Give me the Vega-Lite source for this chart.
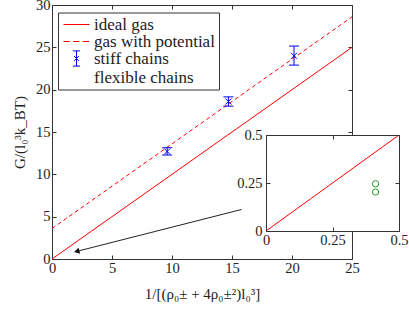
{
  "$schema": "https://vega.github.io/schema/vega-lite/v6.json",
  "width": 300,
  "height": 254,
  "autosize": {"type": "none"},
  "padding": {"left": 52, "top": 5, "right": 57, "bottom": 50},
  "background": "white",
  "config": {
    "view": {"stroke": null},
    "font": "Liberation Serif",
    "axis": {
      "labelFont": "Liberation Serif",
      "labelFontSize": 14.5,
      "labelColor": "#222222",
      "titleFont": "Liberation Serif",
      "titleFontSize": 15,
      "titleFontWeight": "normal",
      "titleColor": "#222222",
      "domainColor": "#333333",
      "tickColor": "#333333",
      "grid": false,
      "labelFlush": false,
      "labelOverlap": false,
      "tickSize": -4,
      "domainWidth": 1,
      "tickWidth": 1
    }
  },
  "datasets": {
    "ideal": [{"x": 0, "G": 0}, {"x": 25, "G": 25}],
    "potential": [{"x": 0, "G": 3.6}, {"x": 25, "G": 28.6}],
    "stiff": [
      {"x": 9.6, "G": 12.7, "lo": 12.28, "hi": 13.14},
      {"x": 14.7, "G": 18.6, "lo": 18.05, "hi": 19.15},
      {"x": 20.17, "G": 24.0, "lo": 22.9, "hi": 25.15}
    ],
    "arrow": [{"x": 15.8, "G": 5.85, "x2": 2.06, "G2": 0.9}],
    "legend": [
      {"series": "ideal gas"},
      {"series": "gas with potential"},
      {"series": "stiff chains"},
      {"series": "flexible chains"}
    ],
    "insetBox": [{"box": "inset"}],
    "idealInset": [{"x": 0, "G": 0}, {"x": 0.5, "G": 0.5}],
    "flexible": [{"x": 0.412, "G": 0.246}, {"x": 0.412, "G": 0.203}]
  },
  "layer": [
    {
      "layer": [
        {
          "data": {"name": "ideal"},
          "mark": {"type": "line", "color": "#ff0000", "strokeWidth": 1},
          "encoding": {
            "x": {"field": "x", "type": "quantitative",
                  "scale": {"domain": [0, 25], "nice": false, "zero": false},
                  "axis": {"orient": "bottom", "values": [0, 5, 10, 15, 20, 25], "title": "1/[(ρ₀± + 4ρ₀±²)l₀³]", "labelPadding": 6, "titlePadding": 12}},
            "y": {"field": "G", "type": "quantitative",
                  "scale": {"domain": [0, 30], "nice": false, "zero": false},
                  "axis": {"orient": "left", "values": [0, 5, 10, 15, 20, 25, 30], "title": "G/(l₀³k_BT)", "labelPadding": 6, "titlePadding": 8}}
          }
        },
        {
          "data": {"name": "potential"},
          "mark": {"type": "line", "color": "#ff0000", "strokeWidth": 1, "strokeDash": [4, 3]},
          "encoding": {
            "x": {"field": "x", "type": "quantitative",
                  "axis": {"orient": "top", "values": [0, 5, 10, 15, 20, 25], "labels": false, "title": null}},
            "y": {"field": "G", "type": "quantitative",
                  "axis": {"orient": "right", "values": [0, 5, 10, 15, 20, 25, 30], "labels": false, "title": null}}
          }
        },
        {
          "data": {"name": "stiff"},
          "mark": {"type": "rule", "color": "#0000ff", "strokeWidth": 1},
          "encoding": {
            "x": {"field": "x", "type": "quantitative", "axis": null},
            "y": {"field": "lo", "type": "quantitative", "axis": null},
            "y2": {"field": "hi"}
          }
        },
        {
          "data": {"name": "stiff"},
          "mark": {"type": "point", "shape": "M-1,0H1", "size": 100, "filled": false, "color": "#0000ff", "strokeWidth": 1, "opacity": 1},
          "encoding": {
            "x": {"field": "x", "type": "quantitative", "axis": null},
            "y": {"field": "lo", "type": "quantitative", "axis": null}
          }
        },
        {
          "data": {"name": "stiff"},
          "mark": {"type": "point", "shape": "M-1,0H1", "size": 100, "filled": false, "color": "#0000ff", "strokeWidth": 1, "opacity": 1},
          "encoding": {
            "x": {"field": "x", "type": "quantitative", "axis": null},
            "y": {"field": "hi", "type": "quantitative", "axis": null}
          }
        },
        {
          "data": {"name": "stiff"},
          "mark": {"type": "point", "shape": "M-1,-1L1,1M-1,1L1,-1", "size": 36, "filled": false, "color": "#0000ff", "strokeWidth": 1, "opacity": 1},
          "encoding": {
            "x": {"field": "x", "type": "quantitative", "axis": null},
            "y": {"field": "G", "type": "quantitative", "axis": null}
          }
        },
        {
          "data": {"name": "arrow"},
          "mark": {"type": "rule", "color": "#222222", "strokeWidth": 1},
          "encoding": {
            "x": {"field": "x", "type": "quantitative", "axis": null},
            "y": {"field": "G", "type": "quantitative", "axis": null},
            "x2": {"field": "x2"},
            "y2": {"field": "G2"}
          }
        },
        {
          "data": {"name": "arrow"},
          "mark": {"type": "point", "shape": "triangle-up", "angle": 256, "size": 40, "filled": true, "color": "#111111", "opacity": 1},
          "encoding": {
            "x": {"field": "x2", "type": "quantitative", "axis": null},
            "y": {"field": "G2", "type": "quantitative", "axis": null}
          }
        },
        {
          "data": {"name": "legend"},
          "mark": {"type": "point", "filled": false, "strokeWidth": 1, "size": 256, "opacity": 1},
          "encoding": {
            "x": {"field": "lx", "type": "quantitative", "axis": null},
            "y": {"field": "ly", "type": "quantitative", "axis": null},
            "color": {"field": "series", "type": "nominal",
                      "scale": {"domain": ["ideal gas", "gas with potential", "stiff chains", "flexible chains"],
                                "range": ["#ff0000", "#ff0000", "#0000ff", "#229922"]},
                      "legend": {"title": null, "orient": "none", "legendX": 6, "legendY": 7.5,
                                 "strokeColor": "#333333", "fillColor": "white", "padding": 3.5,
                                 "symbolSize": 256, "symbolStrokeWidth": 1, "symbolOffset": 6.5, "labelOffset": 9,
                                 "rowPadding": -2, "labelFont": "Liberation Serif", "labelFontSize": 17, "labelColor": "#222222", "labelLimit": 300}},
            "shape": {"field": "series", "type": "nominal",
                      "scale": {"domain": ["ideal gas", "gas with potential", "stiff chains", "flexible chains"],
                                "range": ["M-1.625,0H1.625",
                                          "M-1.625,0H-0.825M-0.425,0H0.375M0.775,0H1.575",
                                          "M0,-0.95V0.95M-0.45,-0.95H0.45M-0.45,0.95H0.45M-0.3,-0.3L0.3,0.3M-0.3,0.3L0.3,-0.3",
                                          "M0,0"]},
                      "legend": {"title": null, "orient": "none", "legendX": 6, "legendY": 7.5,
                                 "strokeColor": "#333333", "fillColor": "white", "padding": 3.5,
                                 "symbolSize": 256, "symbolStrokeWidth": 1, "symbolOffset": 6.5, "labelOffset": 9,
                                 "rowPadding": -2, "labelFont": "Liberation Serif", "labelFontSize": 17, "labelColor": "#222222", "labelLimit": 300}}
          }
        }
      ],
      "resolve": {"axis": {"x": "independent", "y": "independent"}}
    },
    {
      "layer": [
        {
          "data": {"name": "insetBox"},
          "mark": {"type": "rect", "fill": "white", "stroke": null},
          "encoding": {
            "x": {"datum": 0, "type": "quantitative",
                  "scale": {"domain": [0, 0.5], "range": [214, 347], "nice": false, "zero": false},
                  "axis": {"orient": "bottom", "offset": -28, "values": [0, 0.25, 0.5], "format": ".2~f", "title": null, "zindex": 1, "labelPadding": 6}},
            "x2": {"datum": 0.5},
            "y": {"datum": 0, "type": "quantitative",
                  "scale": {"domain": [0, 0.5], "range": [226, 130], "nice": false, "zero": false},
                  "axis": {"orient": "left", "offset": -214, "values": [0, 0.25, 0.5], "format": ".2~f", "title": null, "zindex": 1, "labelPadding": 8}},
            "y2": {"datum": 0.5}
          }
        },
        {
          "data": {"name": "idealInset"},
          "mark": {"type": "line", "color": "#ff0000", "strokeWidth": 1},
          "encoding": {
            "x": {"field": "x", "type": "quantitative",
                  "axis": {"orient": "top", "offset": -130, "values": [0, 0.25, 0.5], "labels": false, "title": null, "zindex": 1}},
            "y": {"field": "G", "type": "quantitative",
                  "axis": {"orient": "right", "offset": 47, "values": [0, 0.25, 0.5], "labels": false, "title": null, "zindex": 1}}
          }
        },
        {
          "data": {"name": "flexible"},
          "mark": {"type": "point", "shape": "circle", "size": 40, "filled": false, "color": "#229922", "strokeWidth": 1, "opacity": 1},
          "encoding": {
            "x": {"field": "x", "type": "quantitative", "axis": null},
            "y": {"field": "G", "type": "quantitative", "axis": null}
          }
        }
      ],
      "resolve": {"axis": {"x": "independent", "y": "independent"}}
    }
  ],
  "resolve": {
    "scale": {"x": "independent", "y": "independent"},
    "axis": {"x": "independent", "y": "independent"}
  }
}
